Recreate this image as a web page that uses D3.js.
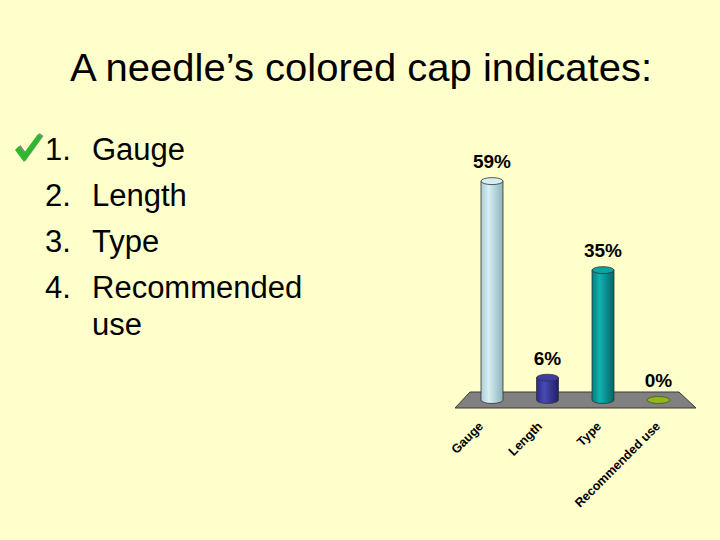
<!DOCTYPE html>
<html>
<head>
<meta charset="utf-8">
<script src="https://cdn.jsdelivr.net/npm/d3@7"></script>
<style>
  html, body { margin: 0; padding: 0; background: #FFFFCC; }
  svg { display: block; }
  text { font-family: "Liberation Sans", Arial, sans-serif; }
</style>
</head>
<body>
<svg id="chart" width="720" height="540"></svg>
<script>
const titleText = "A needle\u2019s colored cap indicates:";
const listNumbers = ["1.", "2.", "3.", "4."];
const listItems = [["Gauge"], ["Length"], ["Type"], ["Recommended", "use"]];
const categories = ["Gauge", "Length", "Type", "Recommended use"];
const values = [59, 6, 35, 0];
const valueLabels = ["59%", "6%", "35%", "0%"];
const barColors = [
  ["#a9cfd7", "#d6eff3", "#8db3bb"],
  ["#2a2a85", "#4a4ab4", "#1f1f66"],
  ["#007f7f", "#14b0b0", "#006666"],
  ["#7f9e18", "#a6c82a", "#6a8412"]
];
const topColors = ["#d4eef2", "#3c3ca4", "#0aa2a2", "#93b520"];

const svg = d3.select("#chart");
svg.append("rect").attr("width", 720).attr("height", 540).attr("fill", "#FFFFCC");

// Title
svg.append("text")
  .attr("x", 361).attr("y", 81)
  .attr("text-anchor", "middle")
  .attr("font-size", 39)
  .attr("textLength", 582)
  .attr("lengthAdjust", "spacingAndGlyphs")
  .attr("fill", "#000")
  .text(titleText);

// Check mark
const check = "M15,150 L19,146 L24,153 L38,134 L42,137 L24,162 Z";
svg.append("path").attr("d", check).attr("fill", "#8a8a8a").attr("transform", "translate(1.5,-1)");
svg.append("path").attr("d", check).attr("fill", "#2eb82e");

// List
const baselines = [160, 206, 252, 298];
const lineGap = 37;
listNumbers.forEach((n, i) => {
  svg.append("text").attr("x", 45).attr("y", baselines[i])
    .attr("font-size", 31).attr("fill", "#000").text(n);
  listItems[i].forEach((line, j) => {
    svg.append("text").attr("x", 92).attr("y", baselines[i] + j * lineGap)
      .attr("font-size", 31).attr("fill", "#000").text(line);
  });
});

// Chart scales
const x = d3.scalePoint().domain(categories).range([492, 658.5]);
const xLabel = d3.scalePoint().domain(categories).range([484, 661]);
const y = d3.scaleLinear().domain([0, 100]).range([400, 29]);
const rx = 11, ry = 3.5;

// Floor
const floorTopY = 392, floorBotY = 408;
svg.append("path")
  .attr("d", `M470,${floorTopY} L679,${floorTopY} L696,${floorBotY} L455,${floorBotY} Z`)
  .attr("fill", "#808080")
  .attr("stroke", "#3a3a3a")
  .attr("stroke-width", 1);

// Gradients
const defs = svg.append("defs");
barColors.forEach((c, i) => {
  const g = defs.append("linearGradient").attr("id", "g" + i)
    .attr("x1", "0%").attr("x2", "100%").attr("y1", "0%").attr("y2", "0%");
  g.append("stop").attr("offset", "0%").attr("stop-color", c[0]);
  g.append("stop").attr("offset", "35%").attr("stop-color", c[1]);
  g.append("stop").attr("offset", "100%").attr("stop-color", c[2]);
});

// Cylinders
categories.forEach((cat, i) => {
  const cx = x(cat);
  const yt = y(values[i]);
  const yb = y(0);
  const grp = svg.append("g");
  if (values[i] > 0) {
    grp.append("path")
      .attr("d", `M${cx - rx},${yt} L${cx - rx},${yb} A${rx},${ry} 0 0 0 ${cx + rx},${yb} L${cx + rx},${yt} Z`)
      .attr("fill", `url(#g${i})`)
      .attr("stroke", "#333")
      .attr("stroke-width", 0.8);
    grp.append("ellipse")
      .attr("cx", cx).attr("cy", yt).attr("rx", rx).attr("ry", ry)
      .attr("fill", topColors[i]).attr("stroke", "#333").attr("stroke-width", 0.8);
  } else {
    grp.append("ellipse")
      .attr("cx", cx).attr("cy", yt).attr("rx", rx + 0.5).attr("ry", ry)
      .attr("fill", topColors[i]).attr("stroke", "#4a5a10").attr("stroke-width", 0.8);
  }
  // value label
  svg.append("text")
    .attr("x", cx).attr("y", yt - 13)
    .attr("text-anchor", "middle")
    .attr("font-size", 19).attr("font-weight", "bold").attr("fill", "#000")
    .text(valueLabels[i]);
  // category label
  svg.append("text")
    .attr("transform", `translate(${xLabel(cat)},${427}) rotate(-45)`)
    .attr("text-anchor", "end")
    .attr("font-size", 12.5).attr("font-weight", "bold").attr("fill", "#000")
    .text(cat);
});
</script>
</body>
</html>
